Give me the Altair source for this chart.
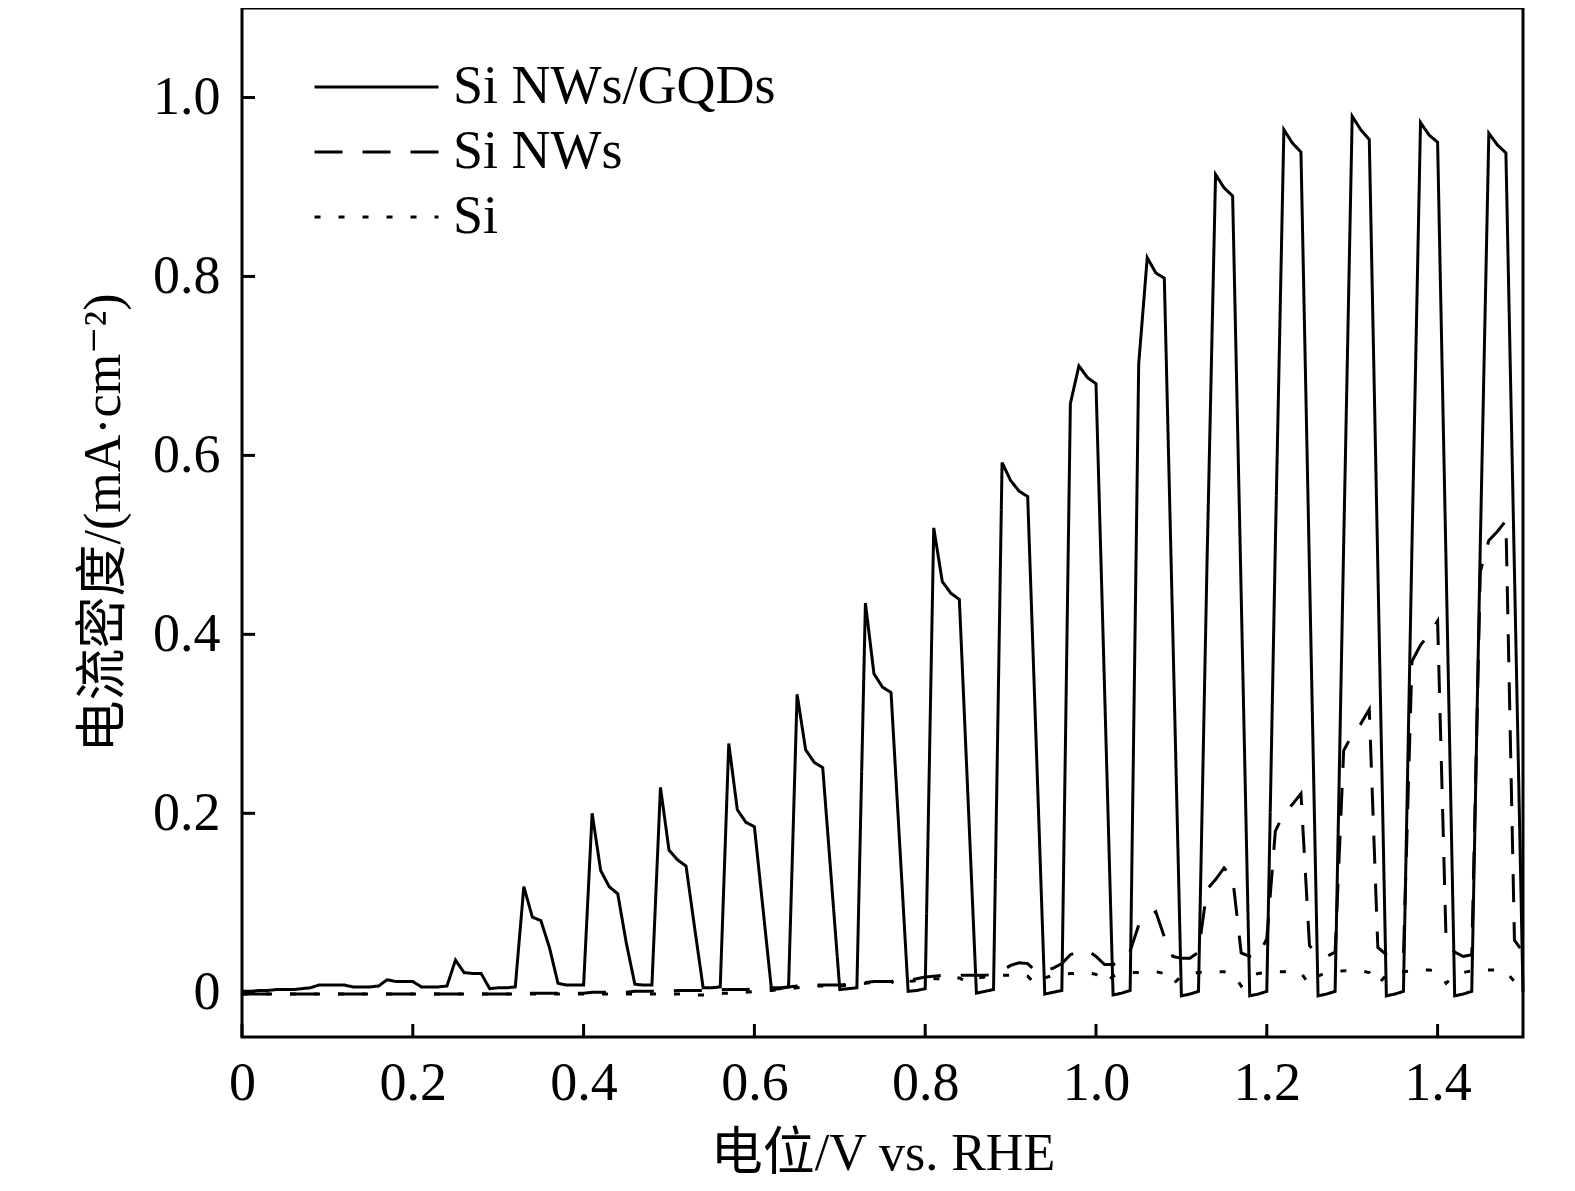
import altair as alt
import pandas as pd

# potential grid of the chopped-light sweep, 0.01 V steps (V vs. RHE)
potential = [round(0.01 * i, 2) for i in range(151)]

# current density (mA/cm2), one value per potential
gqd = [
    0.001, 0.001, 0.002, 0.002, 0.003, 0.003, 0.003, 0.004, 0.005, 0.008,   # 0.00-0.09
    0.008, 0.008, 0.008, 0.006, 0.006, 0.006, 0.007, 0.014, 0.012, 0.012,   # 0.10-0.19
    0.012, 0.006, 0.006, 0.006, 0.007, 0.036, 0.022, 0.021, 0.021, 0.004,   # 0.20-0.29
    0.005, 0.005, 0.006, 0.118, 0.084, 0.080, 0.050, 0.010, 0.008, 0.008,   # 0.30-0.39
    0.008, 0.200, 0.136, 0.118, 0.110, 0.055, 0.009, 0.008, 0.008, 0.229,   # 0.40-0.49
    0.159, 0.148, 0.141, 0.072, 0.005, 0.005, 0.006, 0.278, 0.204, 0.190,   # 0.50-0.59
    0.185, 0.094, 0.003, 0.004, 0.006, 0.333, 0.271, 0.257, 0.251, 0.127,   # 0.60-0.69
    0.003, 0.004, 0.005, 0.435, 0.356, 0.341, 0.335, 0.168, 0.001, 0.002,   # 0.70-0.79
    0.004, 0.519, 0.459, 0.446, 0.439, 0.220, -0.001, 0.001, 0.003, 0.592,  # 0.80-0.89
    0.572, 0.560, 0.554, 0.277, -0.002, 0.000, 0.002, 0.658, 0.700, 0.687,  # 0.90-0.99
    0.680, 0.340, -0.003, -0.001, 0.002, 0.702, 0.821, 0.804, 0.798, 0.400,  # 1.00-1.09
    -0.004, -0.002, 0.001, 0.480, 0.914, 0.899, 0.890, 0.445, -0.004, -0.002,  # 1.10-1.19
    0.001, 0.500, 0.964, 0.949, 0.939, 0.470, -0.004, -0.002, 0.001, 0.500,  # 1.20-1.29
    0.979, 0.964, 0.953, 0.476, -0.004, -0.002, 0.001, 0.500, 0.972, 0.958,  # 1.30-1.39
    0.950, 0.475, -0.004, -0.002, 0.001, 0.500, 0.960, 0.947, 0.938, 0.470,  # 1.40-1.49
    0.000,                                                                  # 1.50
]

nws = [
    -0.002, -0.002, -0.002, -0.002, -0.002, -0.002, -0.002, -0.002, -0.002, -0.002,
    -0.002, -0.002, -0.002, -0.002, -0.002, -0.002, -0.002, -0.002, -0.002, -0.002,
    -0.002, -0.002, -0.002, -0.002, -0.002, -0.002, -0.002, -0.002, -0.002, -0.002,
    -0.002, -0.002, -0.002, -0.001, -0.001, -0.001, -0.001, -0.001, -0.001, -0.001,
    -0.001, 0.000, 0.000, 0.000, 0.000, 0.000, 0.001, 0.001, 0.001, 0.001,
    0.001, 0.002, 0.002, 0.002, 0.002, 0.002, 0.003, 0.003, 0.003, 0.003,
    0.004, 0.004, 0.005, 0.005, 0.006, 0.007, 0.007, 0.008, 0.008, 0.008,
    0.008, 0.009, 0.009, 0.011, 0.012, 0.012, 0.012, 0.013, 0.013, 0.015,
    0.017, 0.018, 0.019, 0.019, 0.019, 0.019, 0.019, 0.019, 0.020, 0.024,
    0.030, 0.033, 0.032, 0.023, 0.024, 0.027, 0.032, 0.042, 0.046, 0.047,
    0.040, 0.031, 0.031, 0.033, 0.046, 0.075, 0.085, 0.090, 0.062, 0.040,
    0.038, 0.038, 0.045, 0.115, 0.126, 0.139, 0.128, 0.044, 0.040, 0.040,
    0.060, 0.180, 0.200, 0.210, 0.222, 0.052, 0.042, 0.040, 0.045, 0.270,
    0.288, 0.300, 0.316, 0.050, 0.042, 0.039, 0.040, 0.370, 0.388, 0.400,
    0.415, 0.055, 0.045, 0.040, 0.042, 0.470, 0.505, 0.515, 0.527, 0.058,
    0.045,
]

si = [
    -0.002, -0.002, -0.002, -0.002, -0.002, -0.002, -0.002, -0.002, -0.002, -0.002,
    -0.002, -0.002, -0.002, -0.002, -0.002, -0.002, -0.002, -0.002, -0.002, -0.002,
    -0.002, -0.002, -0.002, -0.002, -0.002, -0.002, -0.002, -0.002, -0.002, -0.002,
    -0.002, -0.002, -0.002, -0.002, -0.002, -0.002, -0.002, -0.002, -0.002, -0.002,
    -0.002, -0.002, -0.002, -0.002, -0.002, -0.002, -0.002, -0.002, -0.002, -0.002,
    -0.002, -0.002, -0.002, -0.003, -0.003, -0.002, -0.001, -0.001, 0.000, 0.000,
    0.001, 0.002, 0.002, 0.003, 0.004, 0.005, 0.006, 0.007, 0.007, 0.003,
    0.007, 0.008, 0.009, 0.010, 0.011, 0.012, 0.012, 0.007, 0.012, 0.013,
    0.014, 0.015, 0.015, 0.016, 0.016, 0.011, 0.016, 0.017, 0.018, 0.019,
    0.019, 0.020, 0.018, 0.008, 0.016, 0.019, 0.020, 0.021, 0.021, 0.022,
    0.020, 0.010, 0.018, 0.021, 0.022, 0.022, 0.023, 0.023, 0.021, 0.009,
    0.018, 0.021, 0.022, 0.023, 0.023, 0.023, 0.021, 0.007, 0.018, 0.021,
    0.022, 0.023, 0.023, 0.024, 0.022, 0.008, 0.018, 0.022, 0.023, 0.024,
    0.024, 0.024, 0.022, 0.009, 0.019, 0.022, 0.023, 0.024, 0.025, 0.025,
    0.023, 0.010, 0.019, 0.022, 0.024, 0.025, 0.025, 0.025, 0.023, 0.012,
    0.020,
]

samples = ["Si NWs/GQDs", "Si NWs", "Si"]
x_ticks = [0, 0.2, 0.4, 0.6, 0.8, 1.0, 1.2, 1.4]
y_ticks = [0, 0.2, 0.4, 0.6, 0.8, 1.0]

data = pd.concat([
    pd.DataFrame({"potential": potential, "current": vals, "sample": name})
    for name, vals in zip(samples, [gqd, nws, si])
])

W, H = 1281, 1029
serif = "Liberation Serif, DejaVu Serif, Noto Sans CJK SC"
fmt = "datum.value == 0 ? '0' : format(datum.value, '.1f')"

x_enc = alt.X(
    "potential:Q",
    scale=alt.Scale(domain=[0, 1.5], nice=False, zero=False),
    axis=alt.Axis(values=x_ticks, labelExpr=fmt, title="电位/V vs. RHE",
                  labelPadding=19, titlePadding=18, labelFlush=False,
                  labelOverlap=False),
)
y_enc = alt.Y(
    "current:Q",
    scale=alt.Scale(domain=[-0.05, 1.1], nice=False, zero=False),
    axis=alt.Axis(values=y_ticks, labelExpr=fmt, title="电流密度/(mA·cm⁻²)",
                  labelPadding=22, titlePadding=22, labelFlush=False,
                  labelOverlap=False),
)

lines = alt.Chart(data).mark_line(color="black", strokeWidth=3).encode(
    x=x_enc,
    y=y_enc,
    strokeDash=alt.StrokeDash(
        "sample:N",
        scale=alt.Scale(domain=samples, range=[[1, 0], [28, 20], [6, 18]]),
        legend=alt.Legend(title=None, orient="none", legendX=71, legendY=52,
                          symbolType="stroke", symbolSize=15376,
                          symbolStrokeWidth=3, symbolStrokeColor="black",
                          clipHeight=54, rowPadding=11, padding=0,
                          labelFont=serif, labelFontSize=54, labelColor="black",
                          labelOffset=13, labelLimit=800),
    ),
)

# inward ticks
x_tick_marks = alt.Chart(pd.DataFrame({"potential": x_ticks})).mark_rule(
    color="black", strokeWidth=3
).encode(
    x=x_enc,
    y=alt.value(H),
    y2=alt.value(H - 13),
)

y_tick_marks = alt.Chart(pd.DataFrame({"current": y_ticks})).mark_rule(
    color="black", strokeWidth=3
).encode(
    y=y_enc,
    x=alt.value(0),
    x2=alt.value(13),
)

chart = alt.layer(lines, x_tick_marks, y_tick_marks).properties(
    width=W,
    height=H,
    autosize=alt.AutoSizeParams(type="none"),
    padding={"left": 234, "top": 0, "right": 40, "bottom": 150},
).configure_view(
    stroke="black", strokeWidth=3
).configure_axis(
    domain=False, ticks=False, grid=False,
    labelFont=serif, labelFontSize=54, labelColor="black",
    titleFont=serif, titleFontSize=52, titleFontWeight="normal",
    titleColor="black", titleLimit=1000,
)

chart.save("out.html", embed_options={"renderer": "svg", "actions": False})
